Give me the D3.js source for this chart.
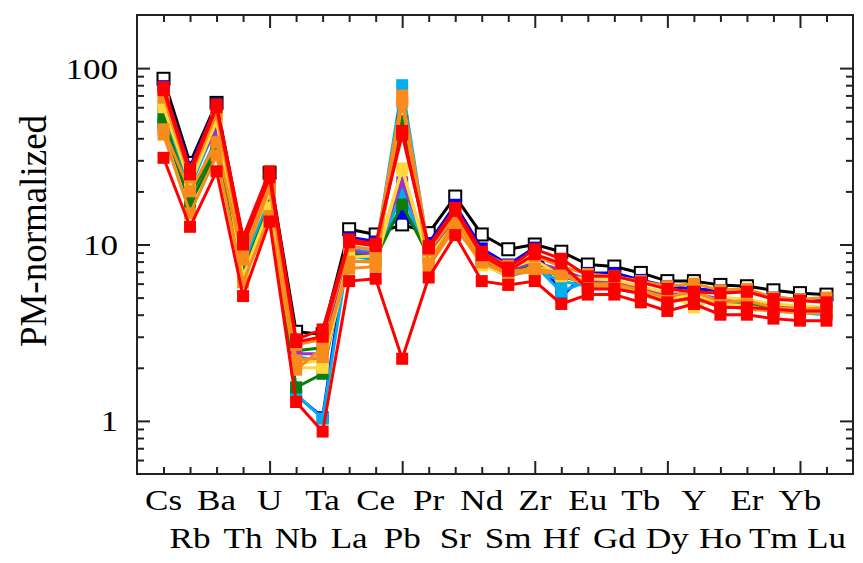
<!DOCTYPE html>
<html>
<head>
<meta charset="utf-8">
<script src="https://cdn.jsdelivr.net/npm/d3@7"></script>
<style>
  html, body { margin: 0; padding: 0; background: #fff; }
  svg { display: block; font-family: "Liberation Serif", "Times New Roman", serif; }
</style>
</head>
<body>
<div id="chart"></div>
<script>
// PM-normalized spider diagram, log y axis, elements along x

const elements = ["Cs","Rb","Ba","Th","U","Nb","Ta","La","Ce","Pb","Pr","Sr","Nd","Sm",
                  "Zr","Hf","Eu","Gd","Tb","Dy","Y","Ho","Er","Tm","Yb","Lu"];

// series values, one entry per element
const sBlack  = [87,29,63.5,10.5,25.5,3.2,3.1,12.2,11.4,13,11.6,18.7,11.4,9.4,10.0,9.1,7.7,7.5,6.9,6.2,6.2,5.9,5.8,5.5,5.3,5.2];
const sBlue   = [79,27.5,62.5,7.6,17.3,1.4,1.05,11.0,10.4,15,10.2,16.8,9.5,7.7,9.6,5.1,6.9,6.9,6.3,5.8,5.6,5.5,5.5,5.0,4.9,4.8];
const sCyan1  = [58,21,48,7.4,18.5,1.42,1.03,9.4,9.0,80,9.0,14.0,8.2,6.9,7.6,5.4,6.2,6.0,5.5,5.0,5.1,4.7,4.6,4.3,4.2,4.1];
const sCyan2  = [50,19,40,8.0,18,2.3,2.2,8.6,8.2,19.8,8.4,13.5,7.8,6.6,7.2,6.2,5.8,5.7,5.2,4.8,4.9,4.5,4.4,4.2,4.1,4.0];
const sGreen1 = [52,18.8,36,7.0,16.5,1.55,1.85,9.0,8.6,50,8.8,13.8,8.0,7.0,7.4,6.6,6.0,5.9,5.4,4.9,5.0,4.6,4.5,4.3,4.2,4.1];
const sGreen2 = [48,17,34,8.6,20,2.5,2.6,8.8,8.4,16.9,8.6,13.0,8.1,7.1,7.8,7.0,6.1,6.0,5.6,5.1,5.3,4.8,4.7,4.4,4.4,4.3];
const sPurple = [60,24,45,9.8,20,2.4,2.4,9.2,8.8,22.5,9.1,14.2,8.4,7.2,7.9,7.2,6.3,6.1,5.7,5.2,5.3,4.9,4.8,4.5,4.4,4.3];
const sYellow1= [64,22,50,8.5,19.8,2.1,2.2,8.5,8.6,26.6,8.5,13.3,8.6,7.3,8.2,6.6,6.4,6.3,5.8,5.3,4.4,5.0,4.9,4.6,4.5,4.4];
const sYellow2= [60,22.5,51,6.6,16.2,2.0,2.0,8.2,7.8,27,8.0,13.0,7.6,6.7,7.5,6.8,5.9,5.8,5.4,4.9,5.2,4.6,4.5,4.2,4.1,4.1];
const sOrange1= [68,24,55,9.0,22,2.7,2.9,9.8,9.3,70,9.3,14.3,9.0,7.6,8.6,7.5,6.8,6.6,6.2,5.8,6.0,5.5,5.6,5.0,4.9,5.0];
const sOrange2= [42,15,32,6.1,14.5,1.95,2.6,7.3,7.5,64,7.5,12.5,7.9,6.8,7.0,6.8,5.8,5.8,5.2,4.7,5.0,4.5,4.3,4.2,4.1,4.1];
const sOrange3= [45,20,38,8.2,21,2.2,2.3,8.0,8.0,66,7.8,13.6,8.3,7.0,7.3,6.9,6.0,6.0,5.5,5.0,5.5,4.7,4.8,4.4,4.3,4.4];
const sRedMid = [75,25,60,10,24,2.8,3.0,10.3,9.8,44,9.5,15.5,8.7,7.1,8.8,7.8,5.6,5.6,5.3,4.7,5.0,4.4,4.4,4.3,4.2,4.2];
const sRedTop = [78,26.6,62,11,26,2.9,3.3,10.7,10.1,42,9.8,16.1,9.1,7.4,9.4,8.3,6.6,6.6,6.1,5.6,5.4,5.3,5.4,4.9,4.8,4.7];
const sRedLow = [31,12.6,26,5.1,13.5,1.28,0.87,6.2,6.4,2.25,6.5,11.3,6.2,5.9,6.2,4.6,5.2,5.2,4.7,4.2,4.6,4.0,4.0,3.8,3.7,3.7];

// draw order and colours
const seriesValues = [sBlack,sBlue,sCyan1,sCyan2,sGreen1,sGreen2,sPurple,sYellow1,sYellow2,
                      sOrange1,sOrange2,sOrange3,sRedMid,sRedTop,sRedLow];
const seriesColors = ["#000000","#0000ee","#00aeef","#00aeef","#0a7d0a","#0a7d0a","#9933cc","#ffd83b","#ffd83b",
                      "#f98b1c","#f98b1c","#f98b1c","#ff0000","#ff0000","#ff0000"];

const yMajor = [1, 10, 100];
const yMinor = [0.6,0.7,0.8,0.9,2,3,4,5,6,7,8,9,20,30,40,50,60,70,80,90];

const W = 863, H = 563;
const plotL = 137, plotR = 853, plotT = 15, plotB = 474;
const stretch = 1.17; // labels in the source are a bit wide

const svg = d3.select("#chart").append("svg")
  .attr("width", W).attr("height", H);

const x = d3.scaleLinear().domain([-1, elements.length]).range([plotL, plotR]);
const y = d3.scaleLog().domain([0.5, 200]).range([plotB, plotT]);

// series
const line = d3.line()
  .x((d, i) => x(i))
  .y(d => y(d));

seriesValues.forEach((vals, k) => {
  const col = seriesColors[k];
  const g = svg.append("g");
  g.append("path")
    .datum(vals)
    .attr("d", line)
    .attr("fill", "none")
    .attr("stroke", col)
    .attr("stroke-width", 3)
    .attr("stroke-linejoin", "round");
  const isBlack = k === 0;
  const sz = 12;
  g.selectAll("rect")
    .data(vals)
    .enter().append("rect")
    .attr("x", (d, i) => x(i) - sz/2)
    .attr("y", d => y(d) - sz/2)
    .attr("width", sz)
    .attr("height", sz)
    .attr("fill", isBlack ? "#ffffff" : col)
    .attr("stroke", isBlack ? "#000" : "none")
    .attr("stroke-width", isBlack ? 2 : 0);
});

// frame and ticks
const axisCol = "#222";
const idx = d3.range(elements.length);
const xMajorIdx = idx.filter(i => i % 5 === 4);
const xMinorIdx = idx.filter(i => i % 5 !== 4);

function styleAxis(g){
  g.select(".domain").remove();
  g.selectAll("line").attr("stroke", axisCol).attr("stroke-width", 2);
  g.selectAll("text").remove();
}

svg.append("g").attr("transform", `translate(0,${plotB})`)
  .call(d3.axisBottom(x).tickValues(xMajorIdx).tickSize(-13)).call(styleAxis);
svg.append("g").attr("transform", `translate(0,${plotB})`)
  .call(d3.axisBottom(x).tickValues(xMinorIdx).tickSize(-7)).call(styleAxis);
svg.append("g").attr("transform", `translate(0,${plotT})`)
  .call(d3.axisTop(x).tickValues(xMajorIdx).tickSize(-13)).call(styleAxis);
svg.append("g").attr("transform", `translate(0,${plotT})`)
  .call(d3.axisTop(x).tickValues(xMinorIdx).tickSize(-7)).call(styleAxis);

svg.append("g").attr("transform", `translate(${plotL},0)`)
  .call(d3.axisLeft(y).tickValues(yMajor).tickSize(-13)).call(styleAxis);
svg.append("g").attr("transform", `translate(${plotL},0)`)
  .call(d3.axisLeft(y).tickValues(yMinor).tickSize(-7)).call(styleAxis);
svg.append("g").attr("transform", `translate(${plotR},0)`)
  .call(d3.axisRight(y).tickValues(yMajor).tickSize(-13)).call(styleAxis);
svg.append("g").attr("transform", `translate(${plotR},0)`)
  .call(d3.axisRight(y).tickValues(yMinor).tickSize(-7)).call(styleAxis);

svg.append("rect")
  .attr("x", plotL).attr("y", plotT)
  .attr("width", plotR - plotL).attr("height", plotB - plotT)
  .attr("fill", "none").attr("stroke", axisCol).attr("stroke-width", 2);

// tick labels
svg.append("g").selectAll("text")
  .data(yMajor)
  .enter().append("text")
  .attr("transform", d => `translate(118,${y(d)}) scale(${stretch},1)`)
  .attr("dy", "0.35em")
  .attr("text-anchor", "end")
  .attr("font-size", 30)
  .text(d => d);

svg.append("g").selectAll("text")
  .data(elements)
  .enter().append("text")
  .attr("transform", (d, i) => `translate(${x(i)},${i % 2 === 0 ? 510 : 548}) scale(${stretch},1)`)
  .attr("text-anchor", "middle")
  .attr("font-size", 30)
  .text(d => d);

svg.append("text")
  .attr("transform", `translate(46,231) rotate(-90)`)
  .attr("text-anchor", "middle")
  .attr("font-size", 37)
  .text("PM-normalized");
</script>
</body>
</html>
